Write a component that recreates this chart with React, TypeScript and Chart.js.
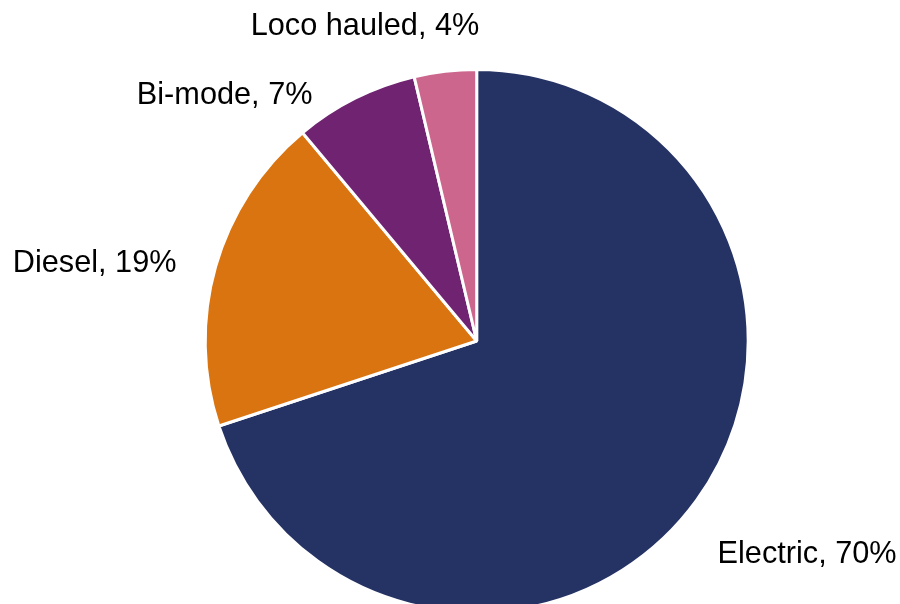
import React, { useEffect, useRef } from "react";
import { Chart, registerables } from "chart.js";

Chart.register(...registerables);

const categories = ["Electric", "Diesel", "Bi-mode", "Loco hauled"];
const shares = [70.0, 19.0, 7.4, 3.7];
const labelPercents = ["70%", "19%", "7%", "4%"];
const colors = ["#253264", "#D97410", "#6F2371", "#CC668D"];

// label centre offsets (px) from the slice's outer-edge mid point
const labelOffsets = [
  [111.6, 53.1],
  [-122.4, -6.1],
  [-131.1, -6.8],
  [-80.4, -49.3],
];

const FONT_SIZE = 30.7;
const BORDER = 3;

const labelPlugin = {
  id: "outsideLabels",
  afterDatasetsDraw(chart: any) {
    const meta = chart.getDatasetMeta(0);
    const ctx = chart.ctx;
    ctx.save();
    ctx.font = `${FONT_SIZE}px "Liberation Sans", Arial, sans-serif`;
    ctx.fillStyle = "#000000";
    ctx.textAlign = "center";
    ctx.textBaseline = "alphabetic";
    meta.data.forEach((arc: any, i: number) => {
      const p = arc.getProps(["x", "y", "startAngle", "endAngle", "outerRadius"], true);
      const mid = (p.startAngle + p.endAngle) / 2;
      const R = p.outerRadius - BORDER / 2;
      const ex = p.x + Math.cos(mid) * R;
      const ey = p.y + Math.sin(mid) * R;
      const cx = ex + labelOffsets[i][0];
      const cy = ey + labelOffsets[i][1];
      const text = `${categories[i]}, ${labelPercents[i]}`;
      ctx.fillText(text, cx, cy + (FONT_SIZE * 0.716) / 2);
    });
    ctx.restore();
  },
};

export default function App() {
  const ref = useRef<HTMLCanvasElement | null>(null);
  useEffect(() => {
    if (!ref.current) return;
    const chart = new Chart(ref.current, {
      type: "pie",
      data: {
        labels: categories,
        datasets: [
          {
            data: shares,
            backgroundColor: colors,
            borderColor: "#ffffff",
            borderWidth: BORDER,
            hoverOffset: 0,
          } as any,
        ],
      },
      options: {
        animation: false,
        responsive: false,
        maintainAspectRatio: false,
        radius: 270 + BORDER / 2,
        layout: { padding: { left: 53.4, right: 0, top: 0, bottom: 0 } },
        plugins: {
          legend: { display: false },
          tooltip: { enabled: false },
        },
        events: [],
      } as any,
      plugins: [labelPlugin],
    });
    return () => chart.destroy();
  }, []);
  return (
    <div
      style={{
        position: "absolute",
        left: 0,
        top: 0,
        width: 900,
        height: 604,
        overflow: "hidden",
        background: "#ffffff",
      }}
    >
      <canvas ref={ref} width={900} height={682} style={{ display: "block" }} />
    </div>
  );
}
